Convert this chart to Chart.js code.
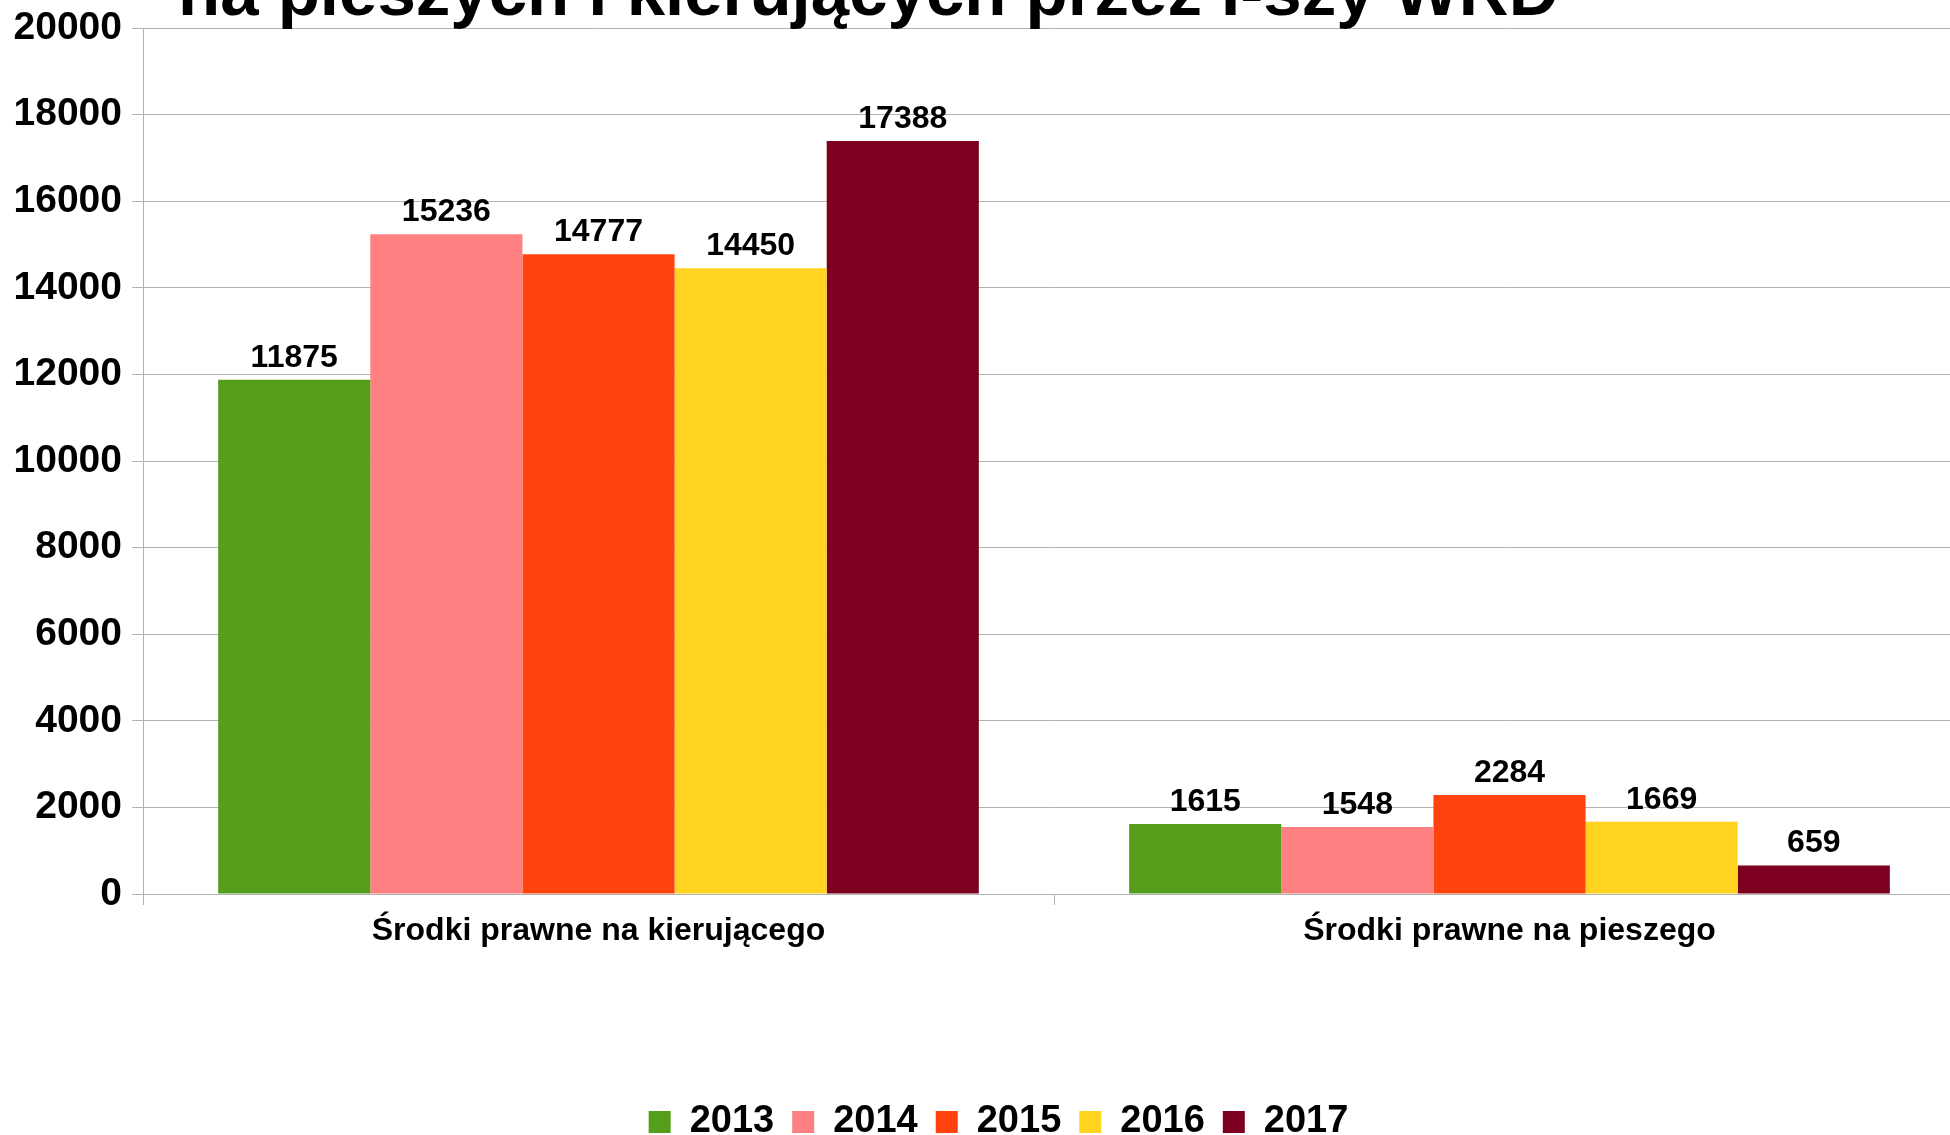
<!DOCTYPE html>
<html>
<head>
<meta charset="utf-8">
<script src="https://cdn.jsdelivr.net/npm/chart.js@4.4.1/dist/chart.umd.min.js"></script>
<style>
  html, body { margin: 0; padding: 0; overflow: hidden; background: #ffffff; }
  #wrap { width: 1965px; height: 1135px; }
</style>
</head>
<body>
<div id="wrap"><canvas id="chart" width="1965" height="1135"></canvas></div>
<script>
// Categories and series (one array per year)
const categories = ['Środki prawne na kierującego', 'Środki prawne na pieszego'];
const years = ['2013', '2014', '2015', '2016', '2017'];
const values2013 = [11875, 1615];
const values2014 = [15236, 1548];
const values2015 = [14777, 2284];
const values2016 = [14450, 1669];
const values2017 = [17388, 659];
const yearColors = ['#579d1c', '#ff8080', '#ff420e', '#ffd320', '#7e0021'];

// Value axis
const yMin = 0;
const yMax = 20000;
const yStep = 2000;

const titleLine = 'na pieszych i kierujących przez I-szy WRD';

const FONT = '"Liberation Sans", Arial, Helvetica, sans-serif';
Chart.defaults.font.family = FONT;
Chart.defaults.color = '#000000';

const series = [values2013, values2014, values2015, values2016, values2017];

// Title (only its last line fits inside the canvas) and the value labels over the bars
const annotate = {
  id: 'annotate',
  afterLayout(chart) {
    // legend row is centred slightly right of the canvas centre
    if (chart.legend) {
      chart.legend.left += 16;
      chart.legend.right += 16;
    }
  },
  afterDatasetsDraw(chart) {
    const ctx = chart.ctx;
    ctx.save();
    ctx.fillStyle = '#000000';
    ctx.font = 'bold 32px ' + FONT;
    ctx.textAlign = 'center';
    ctx.textBaseline = 'alphabetic';
    chart.data.datasets.forEach((ds, di) => {
      const meta = chart.getDatasetMeta(di);
      meta.data.forEach((bar, i) => {
        ctx.fillText(String(ds.data[i]), bar.x, bar.y - 13);
      });
    });
    ctx.font = 'bold 69px ' + FONT;
    ctx.textAlign = 'left';
    ctx.fillText(titleLine, 178, 15);
    ctx.restore();
  }
};

new Chart(document.getElementById('chart'), {
  type: 'bar',
  data: {
    labels: categories,
    datasets: years.map((y, i) => ({
      label: y,
      data: series[i],
      backgroundColor: yearColors[i],
      borderWidth: 0,
      categoryPercentage: 0.835,
      barPercentage: 1.0
    }))
  },
  options: {
    responsive: false,
    animation: false,
    events: [],
    layout: { padding: { top: 28, left: 0, right: 0, bottom: -16 } },
    plugins: {
      title: { display: false },
      tooltip: { enabled: false },
      legend: {
        position: 'bottom',
        labels: {
          boxWidth: 22,
          boxHeight: 22,
          padding: 18,
          color: '#000000',
          font: { size: 38, weight: 'bold' }
        }
      }
    },
    scales: {
      x: {
        offset: true,
        grid: {
          offset: true,
          drawOnChartArea: false,
          drawTicks: true,
          tickLength: 11,
          color: '#b3b3b3'
        },
        border: { color: '#b3b3b3', width: 1 },
        ticks: {
          padding: 7,
          color: '#000000',
          font: { size: 32, weight: 'bold' },
          maxRotation: 0
        },
        afterFit(scale) { scale.height = 191; }
      },
      y: {
        min: yMin,
        max: yMax,
        grid: { color: '#b3b3b3', tickLength: 11, lineWidth: 1 },
        border: { color: '#b3b3b3', width: 1 },
        ticks: {
          stepSize: yStep,
          padding: 10,
          color: '#000000',
          font: { size: 39, weight: 'bold' },
          callback: (v) => String(v)
        },
        afterFit(scale) {
          scale.width = 143;
          scale.paddingTop = 0;
          scale.paddingBottom = 0;
        }
      }
    }
  },
  plugins: [annotate]
});
</script>
</body>
</html>
